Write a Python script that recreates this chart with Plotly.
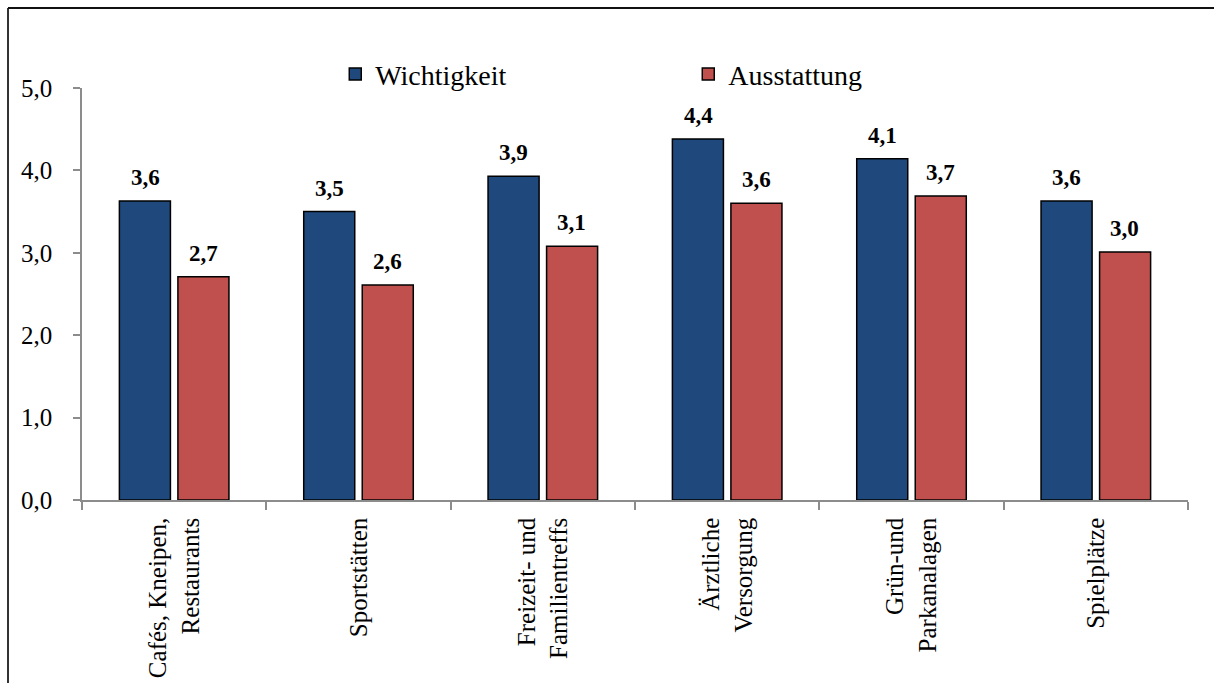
import plotly.graph_objects as go

# Kategorien und Mittelwerte (Skala 0-5)
categories = [
    "Cafés, Kneipen,<br>Restaurants",
    "Sportstätten",
    "Freizeit- und<br>Familientreffs",
    "Ärztliche<br>Versorgung",
    "Grün-und<br>Parkanalagen",
    "Spielplätze",
]
wichtigkeit = [3.63, 3.50, 3.93, 4.38, 4.14, 3.63]
ausstattung = [2.71, 2.61, 3.08, 3.60, 3.69, 3.01]
y_ticks = [0, 1, 2, 3, 4, 5]

BLUE = "#1F497D"
RED = "#C0504D"
SERIF = "Liberation Serif"

fig = go.Figure()
fig.add_trace(go.Bar(
    name="Wichtigkeit", x=categories, y=wichtigkeit,
    marker=dict(color=BLUE, line=dict(color="#000000", width=1.5)),
))
fig.add_trace(go.Bar(
    name="Ausstattung", x=categories, y=ausstattung,
    marker=dict(color=RED, line=dict(color="#000000", width=1.5)),
))

# Wertebeschriftungen über den Balken
def fmt(v):
    return f"{v:.1f}".replace(".", ",")

annotations = []
for series, shift in ((wichtigkeit, -29), (ausstattung, 29)):
    for cat, v in zip(categories, series):
        annotations.append(dict(
            x=cat, y=v, xref="x", yref="y", text=f"<b>{fmt(v)}</b>",
            showarrow=False, xshift=shift, yshift=9, yanchor="bottom",
            font=dict(family=SERIF, size=23, color="#000000"),
        ))

# Rahmen um das Diagramm (linke und obere Kante)
frame = [
    dict(type="line", xref="paper", yref="paper",
         x0=-0.0669, x1=-0.0669, y0=-0.8, y1=1.194,
         line=dict(color="#333333", width=2), layer="below"),
    dict(type="line", xref="paper", yref="paper",
         x0=-0.0669, x1=1.2, y0=1.194, y1=1.194,
         line=dict(color="#111111", width=2), layer="below"),
]

fig.update_layout(
    width=1214, height=683,
    margin=dict(l=82, r=26, t=88, b=183, autoexpand=False),
    paper_bgcolor="white", plot_bgcolor="white",
    barmode="group", bargap=0.365, bargroupgap=0.128,
    separators=",.",
    font=dict(family=SERIF, size=25, color="#000000"),
    showlegend=True,
    legend=dict(
        orientation="h", x=0.229, xanchor="left", y=1.033, yanchor="middle",
        entrywidth=308, entrywidthmode="pixels",
        font=dict(family=SERIF, size=28, color="#000000"),
        bgcolor="rgba(0,0,0,0)", traceorder="normal",
    ),
    annotations=annotations,
    shapes=frame,
)

fig.update_yaxes(
    range=[0, 5], tickvals=y_ticks, tickformat=".1f",
    showgrid=False, zeroline=False, automargin=False,
    showline=True, linecolor="#8C8C8C", linewidth=1.5,
    ticks="outside", ticklen=7, tickcolor="#8C8C8C", tickwidth=1.5,
    ticklabelstandoff=16,
    tickfont=dict(family=SERIF, size=25, color="#000000"),
)
fig.update_xaxes(
    tickangle=-90, tickson="boundaries",
    showgrid=False, zeroline=False, automargin=False,
    showline=True, linecolor="#8C8C8C", linewidth=1.5,
    ticks="outside", ticklen=8, tickcolor="#8C8C8C", tickwidth=1.5,
    ticklabelstandoff=6,
    tickfont=dict(family=SERIF, size=25, color="#000000"),
)

fig.write_html("out.html")
